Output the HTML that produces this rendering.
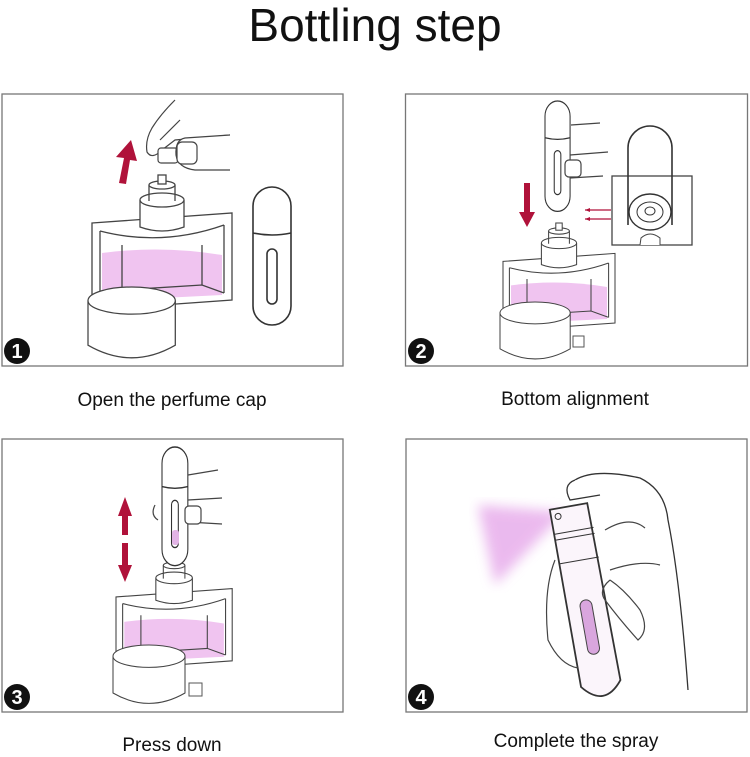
<!DOCTYPE html>
<html><head><meta charset="utf-8"><style>
html,body{margin:0;padding:0;background:#fff;}
body{width:750px;height:757px;position:relative;overflow:hidden;font-family:"Liberation Sans",sans-serif;}
.t{position:absolute;left:0;width:750px;text-align:center;top:-2px;font-size:46px;color:#111;}
.c{position:absolute;font-size:19px;color:#111;text-align:center;width:340px;}
svg{position:absolute;left:0;top:0;}
</style></head><body>
<div class="t">Bottling step</div>
<div class="c" style="left:2px;top:390px">Open the perfume cap</div>
<div class="c" style="left:405px;top:389px">Bottom alignment</div>
<div class="c" style="left:2px;top:735px">Press down</div>
<div class="c" style="left:406px;top:731px">Complete the spray</div>
<svg width="750" height="757" viewBox="0 0 750 757">
<defs>
<filter id="bl"><feGaussianBlur stdDeviation="6"/></filter>
<g id="bottle" fill="none" stroke="#444" stroke-width="1.3">
  <path d="M10,48 Q70,40 130,50 L130,90 L10,96 Z" fill="#f0c4f0" stroke="none"/>
  <path d="M0,18 L140,8 L140,95 L0,105 Z" fill="none"/>
  <path d="M8,26 Q70,42 132,20 M8,26 L8,98 M132,20 L132,88 M8,98 L30,85 L110,80 L132,88"/>
  <path d="M30,40 L30,85 M110,40 L110,80"/>
  <path d="M48,-5 L48,22 Q70,30 92,22 L92,-5" fill="#fff"/>
  <ellipse cx="70" cy="-5" rx="22" ry="7" fill="#fff"/>
  <path d="M57,-20 L57,-4 M83,-20 L83,-4"/>
  <ellipse cx="70" cy="-20" rx="13" ry="4" fill="#fff"/>
  <rect x="66" y="-30" width="8" height="9" fill="#fff"/>
</g>
<g id="jar" fill="#fff" stroke="#444" stroke-width="1.3">
  <path d="M0,14 L0,60 Q45,86 90,60 L90,14"/>
  <ellipse cx="45" cy="14" rx="45" ry="14"/>
</g>
<g id="atom" fill="#fff" stroke="#333" stroke-width="1.6">
  <rect x="0" y="0" width="38" height="138" rx="19"/>
  <path d="M0,46 Q19,50 38,46" fill="none"/>
  <rect x="14" y="62" width="10" height="55" rx="5"/>
</g>
</defs>
<g fill="none" stroke="#777" stroke-width="1.3">
<rect x="2" y="94" width="341" height="272"/>
<rect x="405.5" y="94" width="342" height="272"/>
<rect x="2" y="439" width="341" height="273"/>
<rect x="406" y="439" width="341" height="273"/>
</g>
<!-- panel1 -->
<use href="#bottle" transform="translate(92,205)"/>
<use href="#jar" transform="translate(88,287) scale(0.97)"/>
<use href="#atom" transform="translate(253,187)"/>
<path d="M119,183 L124,158 L116,157 L131,140 L137,161 L130,160 L126,184 Z" fill="#b0123a"/>
<g fill="#fff" stroke="#444" stroke-width="1.2">
<path d="M175,100 Q160,115 152,128 Q145,140 147,152 Q152,160 162,150 L175,140 L230,135 M180,120 L160,140"/>
<rect x="158" y="148" width="20" height="15" rx="3"/>
<path d="M230,135 L185,138 Q175,140 176,155 Q178,168 195,170 L230,170"/>
<rect x="177" y="142" width="20" height="22" rx="5"/>
</g>
<!-- panel2 -->
<use href="#bottle" transform="translate(503,247) scale(0.8)"/>
<use href="#jar" transform="translate(500,302) scale(0.78)"/>
<use href="#atom" transform="translate(545,101) scale(0.66,0.8)"/>
<rect x="573" y="336" width="11" height="11" fill="#fff" stroke="#555"/>
<g fill="none" stroke="#444" stroke-width="1.2">
<path d="M571,125 L600,123 M570,155 L608,152 M570,178 L603,176"/>
<rect x="565" y="160" width="16" height="17" rx="4" fill="#fff"/>
</g>
<path d="M524,183 L530,183 L530,212 L535,212 L527,227 L519,212 L524,212 Z" fill="#b0123a"/>
<path d="M611,210 L585,210 M611,219 L585,219" stroke="#b0123a" stroke-width="1.3"/>
<path d="M585,210 l5,-2 v4 z M585,219 l5,-2 v4 z" fill="#b0123a"/>
<rect x="612" y="176" width="80" height="69" fill="#fff" stroke="#444" stroke-width="1.3"/>
<path d="M628,225 L628,148 A22,22 0 0 1 672,148 L672,225" fill="none" stroke="#333" stroke-width="1.6"/>
<ellipse cx="650" cy="212" rx="21" ry="18" fill="#fff" stroke="#333" stroke-width="1.4"/>
<ellipse cx="650" cy="212" rx="13" ry="10" fill="none" stroke="#333"/>
<ellipse cx="650" cy="211" rx="5" ry="4" fill="none" stroke="#333"/>
<path d="M640,245 L641,238 Q650,230 660,238 L660,245" fill="#fff" stroke="#444"/>
<!-- panel3 -->
<use href="#bottle" transform="translate(116,582) scale(0.83)"/>
<use href="#jar" transform="translate(113,645) scale(0.8)"/>
<rect x="189" y="683" width="13" height="13" fill="#fff" stroke="#555"/>
<use href="#atom" transform="translate(162,447) scale(0.68,0.86)"/>
<rect x="172" y="530" width="7" height="15" rx="3" fill="#e2b4e6"/>
<g fill="none" stroke="#444" stroke-width="1.2">
<path d="M188,475 L218,470 M188,500 L222,498 M188,522 L222,524 M155,505 Q150,515 158,520"/>
<rect x="185" y="506" width="16" height="18" rx="4" fill="#fff"/>
</g>
<path d="M122,535 L122,516 L118,516 L125,497 L132,516 L128,516 L128,535 Z M122,543 L128,543 L128,565 L132,565 L125,582 L118,565 L122,565 Z" fill="#b0123a"/>
<!-- panel4 -->
<polygon points="565,512 478,505 495,585" fill="#e6a8ea" filter="url(#bl)" opacity="0.8"/>
<g fill="#fff" stroke="#333" stroke-width="1.3">
<path d="M575,480 Q595,468 640,478 Q665,490 668,520 Q680,580 688,690" fill="none"/>
<path d="M575,480 Q562,485 570,500 L600,495" />
</g>
<g transform="rotate(-10 585 600)">
<path d="M566,505 L604,505 L606,685 Q586,710 566,685 Z" fill="#fbf5fb" stroke="#333" stroke-width="1.8"/>
<path d="M566,530 L606,530 M566,536 L606,536 M566,560 L606,560" stroke="#333" fill="none"/>
<circle cx="573" cy="513" r="3" fill="none" stroke="#333"/>
<rect x="579" y="600" width="12" height="55" rx="6" fill="#d9a6de" stroke="#444"/>
</g>
<g fill="none" stroke="#444" stroke-width="1.2">
<path d="M555,560 Q543,590 548,640 Q560,665 578,668 M610,580 Q598,590 605,600 Q620,620 638,640 Q650,630 640,610 Q625,590 610,580"/>
<path d="M605,530 Q630,515 645,528 M610,570 Q640,560 660,565"/>
</g>
<!-- badges -->
<g font-family="Liberation Sans,sans-serif" font-size="20" font-weight="bold" fill="#fff" text-anchor="middle">
<circle cx="17" cy="351" r="13" fill="#111"/><text x="17" y="358">1</text>
<circle cx="421" cy="351" r="13" fill="#111"/><text x="421" y="358">2</text>
<circle cx="17" cy="697" r="13" fill="#111"/><text x="17" y="704">3</text>
<circle cx="421" cy="697" r="13" fill="#111"/><text x="421" y="704">4</text>
</g>
</svg>
</body></html>
